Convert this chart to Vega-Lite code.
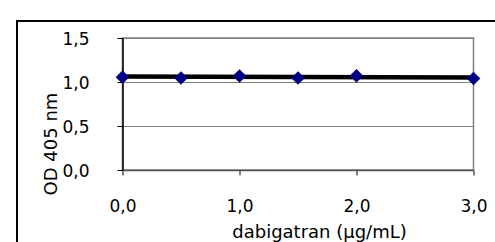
{
  "$schema": "https://vega.github.io/schema/vega-lite/v6.json",
  "width": 351,
  "height": 132,
  "autosize": "none",
  "padding": {"left": 122.5, "top": 38, "right": 21.5, "bottom": 72},
  "background": "white",
  "config": {
    "view": {"stroke": "#808080", "strokeWidth": 1.5},
    "font": "DejaVu Sans"
  },
  "datasets": {
    "points": [
      {"dose": 0.0, "od": 1.055},
      {"dose": 0.5, "od": 1.045},
      {"dose": 1.0, "od": 1.068},
      {"dose": 1.5, "od": 1.045},
      {"dose": 2.0, "od": 1.07},
      {"dose": 3.0, "od": 1.04}
    ],
    "trend": [
      {"dose": 0.0, "od": 1.062},
      {"dose": 3.0, "od": 1.05}
    ],
    "frame": [{}]
  },
  "layer": [
    {
      "data": {"name": "frame"},
      "mark": {"type": "rect", "fill": null, "stroke": "black", "strokeWidth": 2, "clip": false},
      "encoding": {
        "x": {"datum": -0.9017, "type": "quantitative", "scale": {"domain": [0, 3], "nice": false}},
        "x2": {"datum": 5},
        "y": {"datum": 1.693, "type": "quantitative", "scale": {"domain": [0, 1.5], "nice": false}},
        "y2": {"datum": -2}
      }
    },
    {
      "data": {"name": "trend"},
      "mark": {"type": "line", "color": "black", "strokeWidth": 4.5},
      "encoding": {
        "x": {"field": "dose", "type": "quantitative"},
        "y": {"field": "od", "type": "quantitative"}
      }
    },
    {
      "data": {"name": "points"},
      "mark": {"type": "point", "shape": "diamond", "filled": true, "color": "#000080", "size": 185, "opacity": 1},
      "encoding": {
        "x": {
          "field": "dose",
          "type": "quantitative",
          "axis": {
            "values": [0, 1, 2, 3],
            "labelExpr": "replace(format(datum.value, '.1f'), '.', ',')",
            "grid": false,
            "domainColor": "#555555",
            "domainWidth": 1.5,
            "tickColor": "black",
            "tickSize": 5,
            "tickWidth": 1,
            "labelFontSize": 17,
            "labelColor": "black",
            "labelPadding": 23,
            "labelFlush": false,
            "title": "dabigatran (µg/mL)",
            "titleFontSize": 18,
            "titleFontWeight": "normal",
            "titleColor": "black",
            "titleX": 196.5,
            "titleY": 67.5,
            "titleBaseline": "alphabetic",
            "titleAlign": "center"
          }
        },
        "y": {
          "field": "od",
          "type": "quantitative",
          "axis": {
            "values": [0, 0.5, 1, 1.5],
            "labelExpr": "replace(format(datum.value, '.1f'), '.', ',')",
            "grid": true,
            "gridColor": "#808080",
            "gridWidth": 1,
            "domainColor": "black",
            "domainWidth": 1.5,
            "tickColor": "black",
            "tickSize": 5.5,
            "tickWidth": 1,
            "labelFontSize": 17,
            "labelColor": "black",
            "labelPadding": 28,
            "labelOffset": 1.5,
            "labelFlush": false,
            "title": "OD 405 nm",
            "titleFontSize": 18,
            "titleFontWeight": "normal",
            "titleColor": "black",
            "titleX": -71,
            "titleY": 105.5,
            "titleBaseline": "middle",
            "titleAlign": "center",
            "titleAngle": -90
          }
        }
      }
    }
  ]
}
